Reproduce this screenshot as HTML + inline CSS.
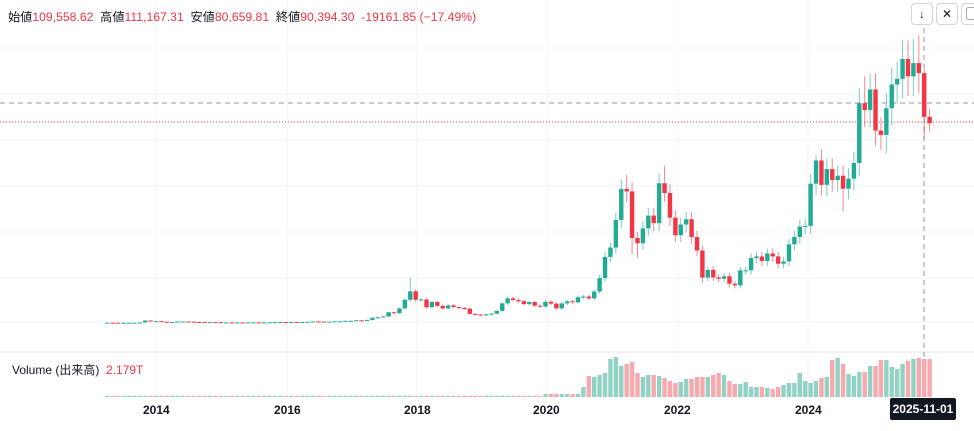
<!DOCTYPE html>
<html><head><meta charset="utf-8"><style>
body{margin:0;background:#fff;width:974px;height:431px;overflow:hidden;font-family:"Liberation Sans","Noto Sans CJK JP",sans-serif;}
svg{position:absolute;left:0;top:0}
.hdr{position:absolute;left:8px;top:7px;font-size:12.2px;color:#131722;white-space:nowrap}
.r{color:#f23645}
.btn{position:absolute;top:3px;width:20px;height:20px;border:1px solid #d1d4dc;border-radius:4px;background:#fff;font-size:12px;text-align:center;line-height:20px;color:#131722}
.vol{position:absolute;left:12px;top:361px;font-size:12px;color:#131722}
.tl{position:absolute;top:403px;font-size:12px;font-weight:bold;color:#131722}
.tag{position:absolute;left:890px;top:398px;width:66px;height:22px;background:#131722;color:#fff;font-size:12px;font-weight:bold;line-height:22px;text-align:center;border-radius:2px}
</style></head><body>
<svg id="s" width="974" height="431"></svg>
<div class="hdr">始値<span class="r">109,558.62</span>&nbsp; 高値<span class="r">111,167.31</span>&nbsp; 安値<span class="r">80,659.81</span>&nbsp; 終値<span class="r">90,394.30</span>&nbsp; <span class="r">-19161.85 (−17.49%)</span></div>
<div class="btn" style="left:911px">↓</div>
<div class="btn" style="left:936px">✕</div>
<div class="btn" style="left:961px">▢</div>
<div class="vol">Volume (出来高)&nbsp; <span class="r">2.179T</span></div>
<div class="tl" style="left:143px">2014</div>
<div class="tl" style="left:274px">2016</div>
<div class="tl" style="left:404px">2018</div>
<div class="tl" style="left:533px">2020</div>
<div class="tl" style="left:664px">2022</div>
<div class="tl" style="left:795px">2024</div>
<div class="tag">2025-11-01</div>
<script>
var closes=[0.14,0.13,0.1,0.1,0.13,0.13,0.2,1.1,0.75,
0.8,0.55,0.45,0.45,0.63,0.64,0.58,0.48,0.39,0.34,0.38,0.32,
0.22,0.25,0.24,0.24,0.23,0.26,0.28,0.23,0.24,0.31,0.38,0.43,
0.37,0.44,0.42,0.45,0.53,0.67,0.62,0.57,0.61,0.70,0.74,0.96,
0.97,1.19,1.07,1.35,2.3,2.5,2.87,4.7,4.3,6.4,10.2,13.9,
10.2,10.3,6.9,9.2,7.5,6.4,7.7,7.0,6.6,6.3,4.0,3.7,
3.4,3.8,4.1,5.3,8.6,10.8,10.1,9.6,8.3,9.2,7.6,7.2,
9.3,8.5,6.4,8.6,9.5,9.1,11.3,11.6,10.8,13.8,19.7,29.0,
33.1,45.2,58.8,57.7,37.3,35.0,41.5,47.1,43.8,61.3,57.0,46.2,
38.5,43.2,45.5,37.7,31.8,19.9,23.3,20.0,19.4,20.5,17.2,16.5,
23.1,23.1,28.5,29.2,27.2,30.5,29.2,26.0,27.0,34.5,37.7,42.3,
42.6,61.1,71.3,60.6,67.5,62.7,64.6,58.9,63.3,70.2,96.4,93.4,
102.4,84.4,82.5,94.2,104.6,107.1,115.8,108.2,114.0,109.6,90.4,87.6];
var hiO={56:19.8,96:64.9,103:69,131:73.8,140:108.3,141:109.4,145:112,149:124.5,150:126.2,151:111.2,152:94};
var loO={97:30,98:28.8,103:53.2,110:17.6,115:15.5,136:49,144:74.5,151:80.7,152:84};
var s='';
function y(p){return 323-2.28*p}
function x(i){return 156+(i-9)*5.41}
[48,94,140,186,232,278,322].forEach(function(g){s+='<line x1="0" x2="974" y1="'+g+'" y2="'+g+'" stroke="#f0f3fa"/>'});
[156,287,417,547,678,808].forEach(function(g){s+='<line x1="'+g+'" x2="'+g+'" y1="0" y2="397" stroke="#f0f3fa"/>'});
s+='<line x1="0" x2="974" y1="352" y2="352" stroke="#e0e3eb"/>';
s+='<line x1="0" x2="974" y1="122" y2="122" stroke="#f23645" stroke-dasharray="1,2"/>';
s+='<line x1="0" x2="974" y1="103" y2="103" stroke="#9598a1" stroke-dasharray="5,4"/>';
s+='<line x1="924" x2="924" y1="28" y2="397" stroke="#9598a1" stroke-dasharray="5,4"/>';
var vl=[10,21,20,22,24,38,40,31,33,35,24,20,22,22,21,19,16,14,15,18,18,20,20,20,22,24,22,16,13,13,15,10,10,10,9,8,10,12,14,14,24,16,14,16,19,20,37,39,33,23,21,25,25,31,31,37,37,30,28,33,36,38,39,38,38];
for(var i=0;i<closes.length;i++){
 var c=closes[i],o=i?closes[i-1]:c*0.95;
 var up=c>=o, col=up?'#22ab94':'#f23645';
 var h=hiO[i]||Math.max(o,c)*1.07, l=loO[i]||Math.min(o,c)*0.92;
 var X=x(i);
 s+='<line x1="'+X+'" x2="'+X+'" y1="'+y(h)+'" y2="'+y(l)+'" stroke="'+col+'" stroke-opacity="0.6"/>';
 var t=Math.min(y(o),y(c)),b=Math.max(y(o),y(c));
 s+='<rect x="'+(X-2.2)+'" y="'+t+'" width="4.4" height="'+Math.max(1,b-t)+'" fill="'+col+'"/>';
 var vi=i-(9+72+7), vh=vi>=0?(vl[vi]||30):(i>=9+72?3:1.2);
 s+='<rect x="'+(X-2.2)+'" y="'+(397-vh)+'" width="4.4" height="'+vh+'" fill="'+(up?'#92d2c5':'#f7a9ad')+'"/>';
}
document.getElementById('s').innerHTML=s;
</script>
</body></html>
